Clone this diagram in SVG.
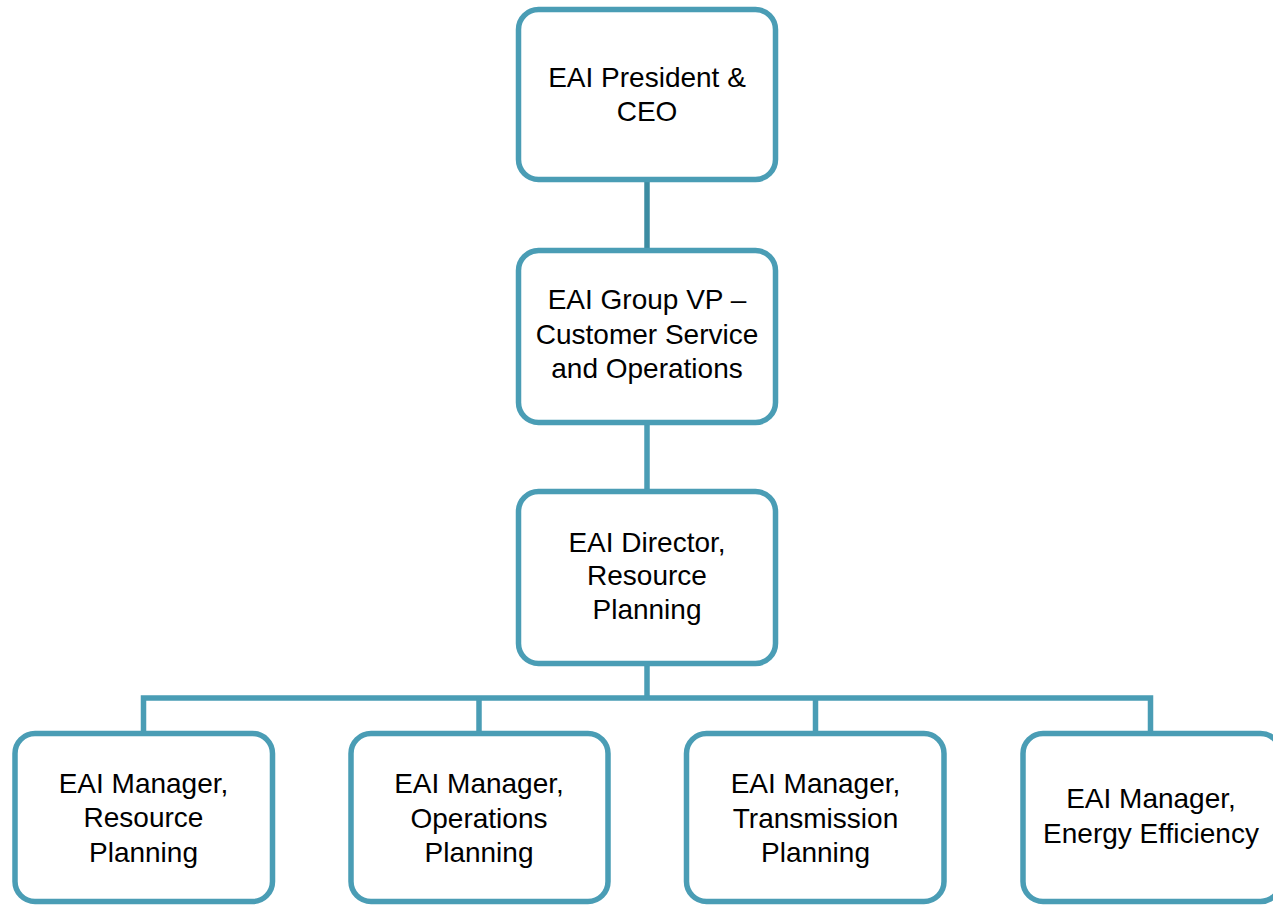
<svg xmlns="http://www.w3.org/2000/svg" width="1273" height="906" viewBox="0 0 1273 906">
<style>
.box{fill:#ffffff;stroke:#4A9DB5;stroke-width:5.5}
.t{font-family:"Liberation Sans",Arial,sans-serif;font-size:28px;fill:#000;text-anchor:middle}
.c{fill:none;stroke:#4A9DB5;stroke-width:5.5}
.c0{fill:none;stroke:#3C8CA2;stroke-width:5.5}
</style>
<rect width="1273" height="906" fill="#ffffff"/>
<g id="connectors">
<line class="c0" x1="647" y1="179" x2="647" y2="251"/>
<line class="c" x1="647" y1="422" x2="647" y2="492"/>
<line class="c" x1="647" y1="664" x2="647" y2="698"/>
<polyline class="c" points="143.5,734 143.5,698 1150.5,698 1150.5,734"/>
<line class="c" x1="479" y1="698" x2="479" y2="734"/>
<line class="c" x1="815.5" y1="698" x2="815.5" y2="734"/>
</g>
<g id="ceo">
<rect class="box" x="518.5" y="9.5" width="257" height="170" rx="20"/>
<text class="t" x="647" y="87">EAI President &amp;</text>
<text class="t" x="647" y="121">CEO</text>
</g>
<g id="vp">
<rect class="box" x="518.5" y="250.5" width="257" height="172" rx="20"/>
<text class="t" x="647" y="309">EAI Group VP –</text>
<text class="t" x="647" y="344">Customer Service</text>
<text class="t" x="647" y="378">and Operations</text>
</g>
<g id="director">
<rect class="box" x="518.5" y="491.5" width="257" height="172" rx="20"/>
<text class="t" x="647" y="552">EAI Director,</text>
<text class="t" x="647" y="585">Resource</text>
<text class="t" x="647" y="619">Planning</text>
</g>
<g id="mgr-resource">
<rect class="box" x="15" y="733.5" width="257.5" height="168" rx="20"/>
<text class="t" x="143.5" y="793">EAI Manager,</text>
<text class="t" x="143.5" y="827">Resource</text>
<text class="t" x="143.5" y="862">Planning</text>
</g>
<g id="mgr-operations">
<rect class="box" x="351" y="733.5" width="257" height="168" rx="20"/>
<text class="t" x="479" y="793">EAI Manager,</text>
<text class="t" x="479" y="828">Operations</text>
<text class="t" x="479" y="862">Planning</text>
</g>
<g id="mgr-transmission">
<rect class="box" x="686.5" y="733.5" width="257.5" height="168" rx="20"/>
<text class="t" x="815.5" y="793">EAI Manager,</text>
<text class="t" x="815.5" y="828">Transmission</text>
<text class="t" x="815.5" y="862">Planning</text>
</g>
<g id="mgr-energy">
<rect class="box" x="1023" y="733.5" width="257.5" height="168" rx="20"/>
<text class="t" x="1151" y="808">EAI Manager,</text>
<text class="t" x="1151" y="843">Energy Efficiency</text>
</g>
</svg>
